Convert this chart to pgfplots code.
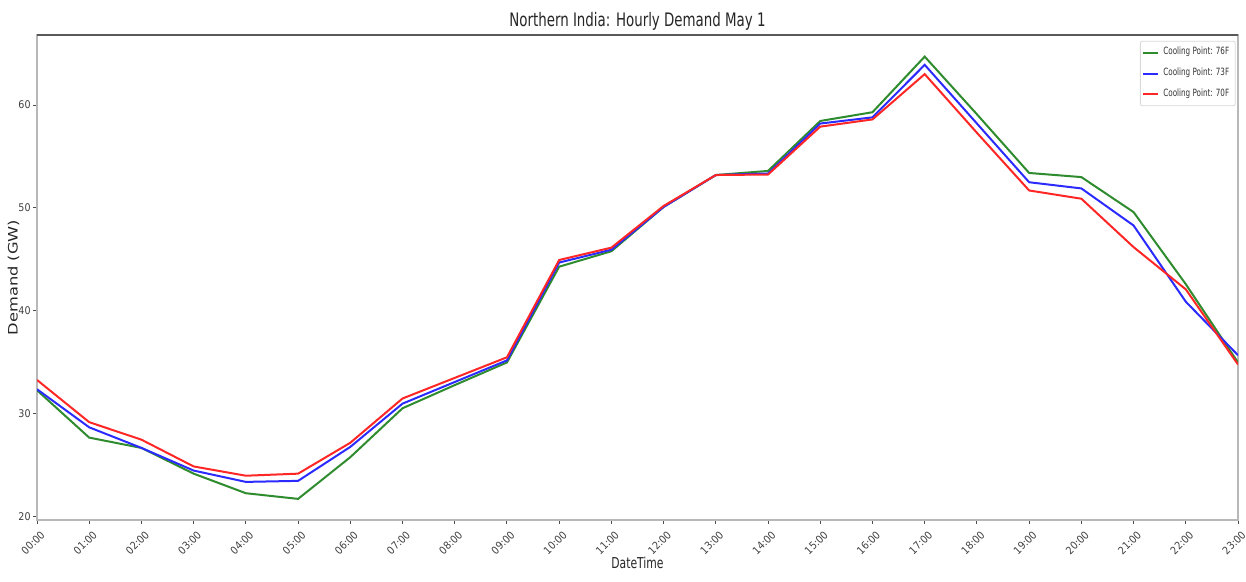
\documentclass[border=0pt]{standalone}
\usepackage{pgfplots}
\pgfplotsset{compat=1.18}
\usepackage{fontspec}
\setmainfont{DejaVu Sans Condensed}
\newfontfamily\narrowfont[FakeStretch=0.8]{DejaVu Sans Condensed}
\newfontfamily\widefont[FakeStretch=1.25]{DejaVu Sans}
\definecolor{cgreen}{HTML}{2E8B2E}
\definecolor{cblue}{HTML}{2B2BFF}
\definecolor{cred}{HTML}{FF2626}
\definecolor{spine}{HTML}{B8B8B8}
\begin{document}
\begin{tikzpicture}
\useasboundingbox (-18.5pt,-31pt) rectangle (604.5pt,260pt);
\begin{axis}[
  scale only axis, width=600.5pt, height=242.5pt,
  xmin=0, xmax=23, ymin=19.7, ymax=66.8,
  xtick={0,...,23},
  xticklabels={00:00,01:00,02:00,03:00,04:00,05:00,06:00,07:00,08:00,09:00,10:00,11:00,12:00,13:00,14:00,15:00,16:00,17:00,18:00,19:00,20:00,21:00,22:00,23:00},
  ytick={20,30,40,50,60},
  /pgf/number format/assume math mode=true,
  tick align=outside, tick pos=left,
  major tick length=2pt,
  every tick/.style={black!70, line width=0.5pt},
  axis line style={spine, line width=1pt},
  tick label style={font=\fontsize{5.3}{6.5}\selectfont, text=black!75},
  xticklabel style={rotate=45, anchor=north east, inner sep=1pt, yshift=-2pt},
  yticklabel style={inner sep=1pt},
  title={Northern India: Hourly Demand May 1},
  title style={font=\narrowfont\fontsize{9.3}{11}\selectfont, text=black!85, yshift=-7pt},
  xlabel={DateTime},
  xlabel style={font=\narrowfont\fontsize{7.5}{9}\selectfont, text=black!85, yshift=4pt},
  ylabel={Demand (GW)},
  ylabel style={font=\widefont\fontsize{6.5}{8}\selectfont, text=black!85, at={(axis description cs:-0.0195,0.5)}, anchor=center},
  legend style={font=\narrowfont\fontsize{5}{6}\selectfont, draw=black!15, rounded corners=1pt, inner sep=1pt, row sep=1.2pt, at={(0.998,0.988)}, anchor=north east, text=black!80},
  legend image code/.code={\draw[#1] (0pt,0pt) -- (7.5pt,0pt);},
  legend cell align=left,
  every axis plot/.append style={line width=1pt},
]
\addplot[cgreen] coordinates {(0,32.3)(1,27.7)(2,26.7)(3,24.2)(4,22.3)(5,21.75)(6,25.8)(7,30.55)(8,32.8)(9,35.0)(10,44.3)(11,45.8)(12,50.1)(13,53.2)(14,53.6)(15,58.45)(16,59.3)(17,64.7)(18,59.1)(19,53.4)(20,53.0)(21,49.6)(22,42.6)(23,35.0)};
\addlegendentry{Cooling Point: 76F}
\addplot[cblue] coordinates {(0,32.4)(1,28.7)(2,26.7)(3,24.5)(4,23.4)(5,23.5)(6,26.8)(7,31.0)(8,33.1)(9,35.2)(10,44.7)(11,45.95)(12,50.1)(13,53.2)(14,53.35)(15,58.2)(16,58.8)(17,63.9)(18,58.2)(19,52.5)(20,51.9)(21,48.3)(22,40.9)(23,35.7)};
\addlegendentry{Cooling Point: 73F}
\addplot[cred] coordinates {(0,33.3)(1,29.2)(2,27.5)(3,24.9)(4,24.0)(5,24.2)(6,27.2)(7,31.5)(8,33.5)(9,35.5)(10,44.95)(11,46.15)(12,50.2)(13,53.2)(14,53.25)(15,57.9)(16,58.6)(17,63.0)(18,57.3)(19,51.7)(20,50.9)(21,46.2)(22,42.1)(23,34.8)};
\addlegendentry{Cooling Point: 70F}
\end{axis}
\draw[black!65, line width=1pt] (0,242.5pt) -- (600.5pt,242.5pt);
\end{tikzpicture}
\end{document}
